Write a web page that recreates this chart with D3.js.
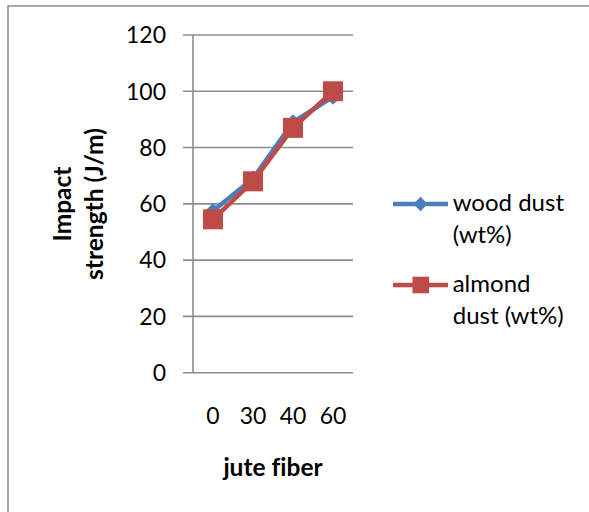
<!DOCTYPE html>
<html><head><meta charset="utf-8">
<script src="https://cdn.jsdelivr.net/npm/d3@7"></script>
<style>body{margin:0;background:#fff;} svg{display:block;} text{font-variant-ligatures:none;font-feature-settings:"liga" 0;}</style>
</head><body>
<svg id="c" width="589" height="512"></svg>
<script>
const categories = ["0", "30", "40", "60"];
const woodDust = [57.5, 69, 89, 98];
const almondDust = [54.5, 68, 87, 100];
const yTicks = [0, 20, 40, 60, 80, 100, 120];
const seriesNames = [["wood dust", "(wt%)"], ["almond", "dust (wt%)"]];
const xTitle = "jute fiber";
const yTitle = ["Impact", "strength (J/m)"];

const svg = d3.select("#c");
const FONT = "Lato, 'Open Sans', sans-serif";
const blue = "#4A7EBB", red = "#BE4B48", grid = "#8C8C8C";
const diamondType = d3.symbolDiamond2 || d3.symbolDiamond;

// outer border
svg.append("rect").attr("x", 8).attr("y", 6).attr("width", 620).attr("height", 540)
  .attr("fill", "none").attr("stroke", "#8C8C8C").attr("stroke-width", 1.5);

const x = d3.scaleBand().domain(categories).range([193, 353]);
const y = d3.scaleLinear().domain([0, 120]).range([372.7, 35]);
const cx = d => x(d) + x.bandwidth() / 2;

// gridlines (extend left as tick marks)
svg.append("g").selectAll("line").data(yTicks).join("line")
  .attr("x1", 183).attr("x2", 353)
  .attr("y1", d => y(d)).attr("y2", d => y(d))
  .attr("stroke", grid).attr("stroke-width", 1.6);
// y axis line
svg.append("line").attr("x1", 193).attr("x2", 193).attr("y1", y(120)).attr("y2", y(0))
  .attr("stroke", grid).attr("stroke-width", 1.6);

// y tick labels
svg.append("g").selectAll("text").data(yTicks).join("text")
  .attr("x", 166).attr("y", d => y(d)).attr("dy", "0.36em")
  .attr("text-anchor", "end").attr("font-family", FONT).attr("font-size", 23)
  .attr("fill", "#000").text(d => d);

// x tick labels
svg.append("g").selectAll("text").data(categories).join("text")
  .attr("x", d => cx(d)).attr("y", 416).attr("dy", "0.36em")
  .attr("text-anchor", "middle").attr("font-family", FONT).attr("font-size", 23)
  .attr("fill", "#000").text(d => d);

// x title
svg.append("text").attr("x", 273).attr("y", 475.7).attr("text-anchor", "middle")
  .attr("font-family", FONT).attr("font-weight", "bold").attr("font-size", 24.5)
  .text(xTitle);

// y title (two lines rotated)
const yt = svg.append("text").attr("text-anchor", "middle")
  .attr("font-family", FONT).attr("font-weight", "bold").attr("font-size", 24.5)
  .attr("transform", "translate(71,204) rotate(-90)");
yt.append("tspan").attr("x", 0).attr("y", 0).text(yTitle[0]);
yt.append("tspan").attr("x", 0).attr("y", 32).text(yTitle[1]);

const line = d3.line().x((d, i) => cx(categories[i])).y(d => y(d));

// wood series
svg.append("path").datum(woodDust).attr("d", line).attr("fill", "none")
  .attr("stroke", blue).attr("stroke-width", 4.5).attr("stroke-linejoin", "round");
svg.append("g").selectAll("path").data(woodDust).join("path")
  .attr("transform", (d, i) => `translate(${cx(categories[i])},${y(d)})`)
  .attr("d", d3.symbol().type(diamondType).size(160)).attr("fill", blue);

// almond series
svg.append("path").datum(almondDust).attr("d", line).attr("fill", "none")
  .attr("stroke", red).attr("stroke-width", 4.5).attr("stroke-linejoin", "round");
svg.append("g").selectAll("rect").data(almondDust).join("rect")
  .attr("x", (d, i) => cx(categories[i]) - 10).attr("y", d => y(d) - 10)
  .attr("width", 20).attr("height", 20).attr("fill", red);

// legend
const lg = svg.append("g");
const legendY = [204, 285];
const colors = [blue, red];
seriesNames.forEach((nm, k) => {
  lg.append("line").attr("x1", 393).attr("x2", 448).attr("y1", legendY[k]).attr("y2", legendY[k])
    .attr("stroke", colors[k]).attr("stroke-width", 4.5);
  if (k === 0) {
    lg.append("path").attr("transform", `translate(420.5,${legendY[k]})`)
      .attr("d", d3.symbol().type(diamondType).size(130)).attr("fill", blue);
  } else {
    lg.append("rect").attr("x", 412.5).attr("y", legendY[k] - 8.3).attr("width", 16.6).attr("height", 16.6)
      .attr("fill", red);
  }
  const t = lg.append("text").attr("font-family", FONT).attr("font-size", 24).attr("fill", "#000");
  t.append("tspan").attr("x", 452.7).attr("y", legendY[k] + 6.7).text(nm[0]);
  t.append("tspan").attr("x", 452.7).attr("y", legendY[k] + 38.7).text(nm[1]);
});
</script>
</body></html>
